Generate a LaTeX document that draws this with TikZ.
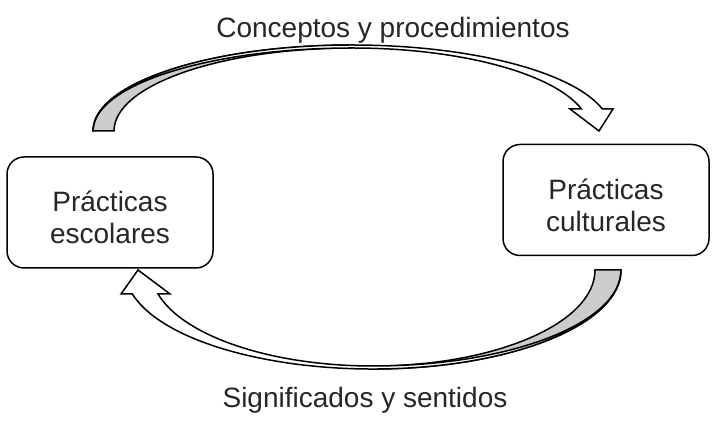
\documentclass[tikz,border=0pt]{standalone}
\usepackage{fontspec}
\setmainfont{Liberation Sans}
\begin{document}
\begin{tikzpicture}[x=1pt, y=1pt,
	caja/.style={draw, line width=1.5pt, rounded corners=17pt, minimum width=206pt, minimum height=111pt, align=center, text=black!85, font=\fontsize{28}{32}\selectfont},
	etiqueta/.style={text=black!85, font=\fontsize{28}{32}\selectfont, anchor=base},
	flecha/.style={draw, line width=1.5pt, line join=miter}]

\useasboundingbox (0,0) rectangle (721,425);

\node[caja] (escolares) at (110,212.5) {\rule{0pt}{31pt}Prácticas\\escolares};
\node[caja] (culturales) at (606,225) {\rule{0pt}{32pt}Prácticas\\culturales};

\node[etiqueta] (conceptos) at (393,387) {Conceptos y procedimientos};
\node[etiqueta] (significados) at (365,17) {Significados y sentidos};

% flecha de arriba
\filldraw[flecha, fill=black!20] (93,294) arc[start angle=180, end angle=90, x radius=259pt, y radius=86pt] -- (352,377)
	arc[start angle=90, end angle=180, x radius=238pt, y radius=83pt] -- cycle;
\filldraw[flecha, fill=white] (93,294) arc[start angle=180, end angle=14.82, x radius=259pt, y radius=86pt]
	-- (613,316) -- (599,294) -- (570,316) -- (581.5,316)
	arc[start angle=15.37, end angle=90, x radius=238pt, y radius=83pt]
	arc[start angle=90, end angle=180, x radius=259pt, y radius=83pt] -- cycle;

% flecha de abajo
\filldraw[flecha, fill=black!20] (621,155) arc[start angle=0, end angle=-90, x radius=248pt, y radius=99pt] -- (373,59)
	arc[start angle=270, end angle=360, x radius=222pt, y radius=96pt] -- cycle;
\filldraw[flecha, fill=white] (132.4,131) arc[start angle=194.03, end angle=360, x radius=248pt, y radius=99pt]
	arc[start angle=0, end angle=-90, x radius=248pt, y radius=96pt]
	arc[start angle=270, end angle=194.48, x radius=222pt, y radius=96pt]
	-- (170,131) -- (138,155) -- (121,131) -- cycle;
%\draw[red] (escolares.south) -- (culturales.north);
\end{tikzpicture}
\end{document}
